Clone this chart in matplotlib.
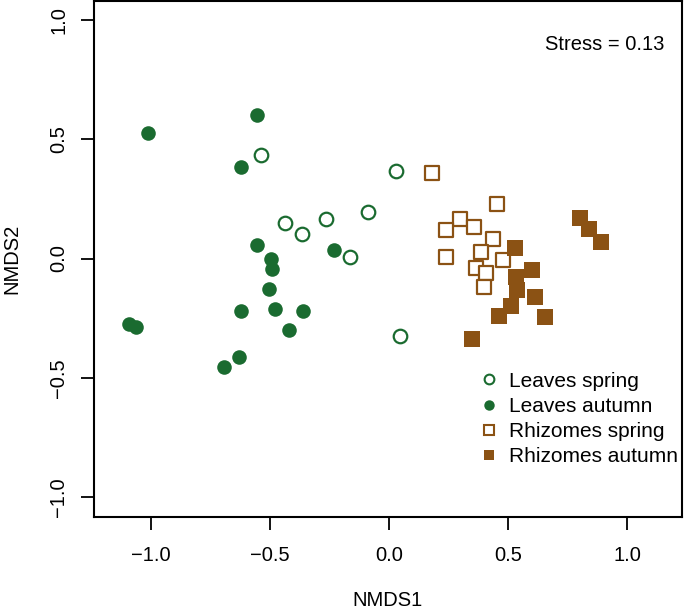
import matplotlib
matplotlib.use("Agg")
import matplotlib.pyplot as plt
from matplotlib.lines import Line2D

plt.rcParams['font.family'] = ['Liberation Sans', 'DejaVu Sans']

green = '#1a6b30'
brown = '#8b5214'

# Leaves spring (open circles)
ls_x = [-0.538, 0.028, -0.088, -0.263, -0.436, -0.365, -0.165, 0.047]
ls_y = [0.434, 0.368, 0.195, 0.167, 0.148, 0.103, 0.006, -0.324]

# Leaves autumn (filled circles)
la_x = [-1.01, -0.552, -0.622, -0.555, -0.496, -0.491, -0.503, -0.231,
        -0.622, -0.478, -0.361, -0.418, -1.089, -1.061, -0.629, -0.693]
la_y = [0.525, 0.602, 0.385, 0.057, -0.002, -0.044, -0.128, 0.036,
        -0.219, -0.212, -0.219, -0.298, -0.276, -0.286, -0.413, -0.456]

# Rhizomes spring (open squares)
rs_x = [0.180, 0.453, 0.298, 0.239, 0.355, 0.435, 0.386, 0.240,
        0.479, 0.366, 0.406, 0.397]
rs_y = [0.360, 0.227, 0.164, 0.119, 0.133, 0.080, 0.027, 0.008,
        -0.008, -0.041, -0.062, -0.119]

# Rhizomes autumn (filled squares)
ra_x = [0.531, 0.800, 0.840, 0.892, 0.599, 0.533, 0.537, 0.611,
        0.512, 0.461, 0.653, 0.349]
ra_y = [0.044, 0.169, 0.122, 0.068, -0.049, -0.078, -0.132, -0.160,
        -0.198, -0.242, -0.247, -0.339]

labels = ['Leaves spring', 'Leaves autumn', 'Rhizomes spring', 'Rhizomes autumn']
ticks = [-1.0, -0.5, 0.0, 0.5, 1.0]
fs = 14.5

fig = plt.figure(figsize=(6.85, 6.11), dpi=100)
ax = fig.add_axes([0.1372, 0.1538, 0.8584, 0.8446])

ax.scatter(ls_x, ls_y, s=95, facecolors='white', edgecolors=green, linewidths=1.6, zorder=3)
ax.scatter(la_x, la_y, s=110, color=green, linewidths=0, zorder=3)
ax.scatter(rs_x, rs_y, s=115, marker='s', facecolors='white', edgecolors=brown, linewidths=1.6, zorder=3)
ax.scatter(ra_x, ra_y, s=125, marker='s', color=brown, linewidths=0, zorder=3)

ax.set_xlim(-1.238, 1.23)
ax.set_ylim(-1.084, 1.08)
ax.set_xticks(ticks)
ax.set_yticks(ticks)
ax.set_xticklabels(['\u22121.0', '\u22120.5', '0.0', '0.5', '1.0'], fontsize=fs)
ax.set_yticklabels(['\u22121.0', '\u22120.5', '0.0', '0.5', '1.0'], fontsize=fs,
                   rotation=90, va='center')
ax.tick_params(length=9.5, width=1.3)
ax.tick_params(axis='x', pad=11)
ax.tick_params(axis='y', pad=9)
for sp in ax.spines.values():
    sp.set_linewidth(1.5)

ax.text(0.97, 0.915, 'Stress = 0.13', transform=ax.transAxes, ha='right',
        va='center', fontsize=fs)

handles = [
    Line2D([], [], ls='none', marker='o', ms=7, mfc='white', mec=green, mew=1.5),
    Line2D([], [], ls='none', marker='o', ms=7.5, color=green, mew=0),
    Line2D([], [], ls='none', marker='s', ms=7, mfc='white', mec=brown, mew=1.5),
    Line2D([], [], ls='none', marker='s', ms=7.5, color=brown, mew=0),
]
ax.legend(handles, labels, loc='upper left', bbox_to_anchor=(0.64, 0.298),
          frameon=False, fontsize=15, handlelength=1.0, handletextpad=0.45,
          labelspacing=0.3, borderaxespad=0)

fig.text(0.566, 0.018, 'NMDS1', ha='center', va='center', fontsize=fs)
fig.text(0.018, 0.577, 'NMDS2', ha='center', va='center', rotation=90, fontsize=fs)

fig.savefig('out.png', dpi=100)
